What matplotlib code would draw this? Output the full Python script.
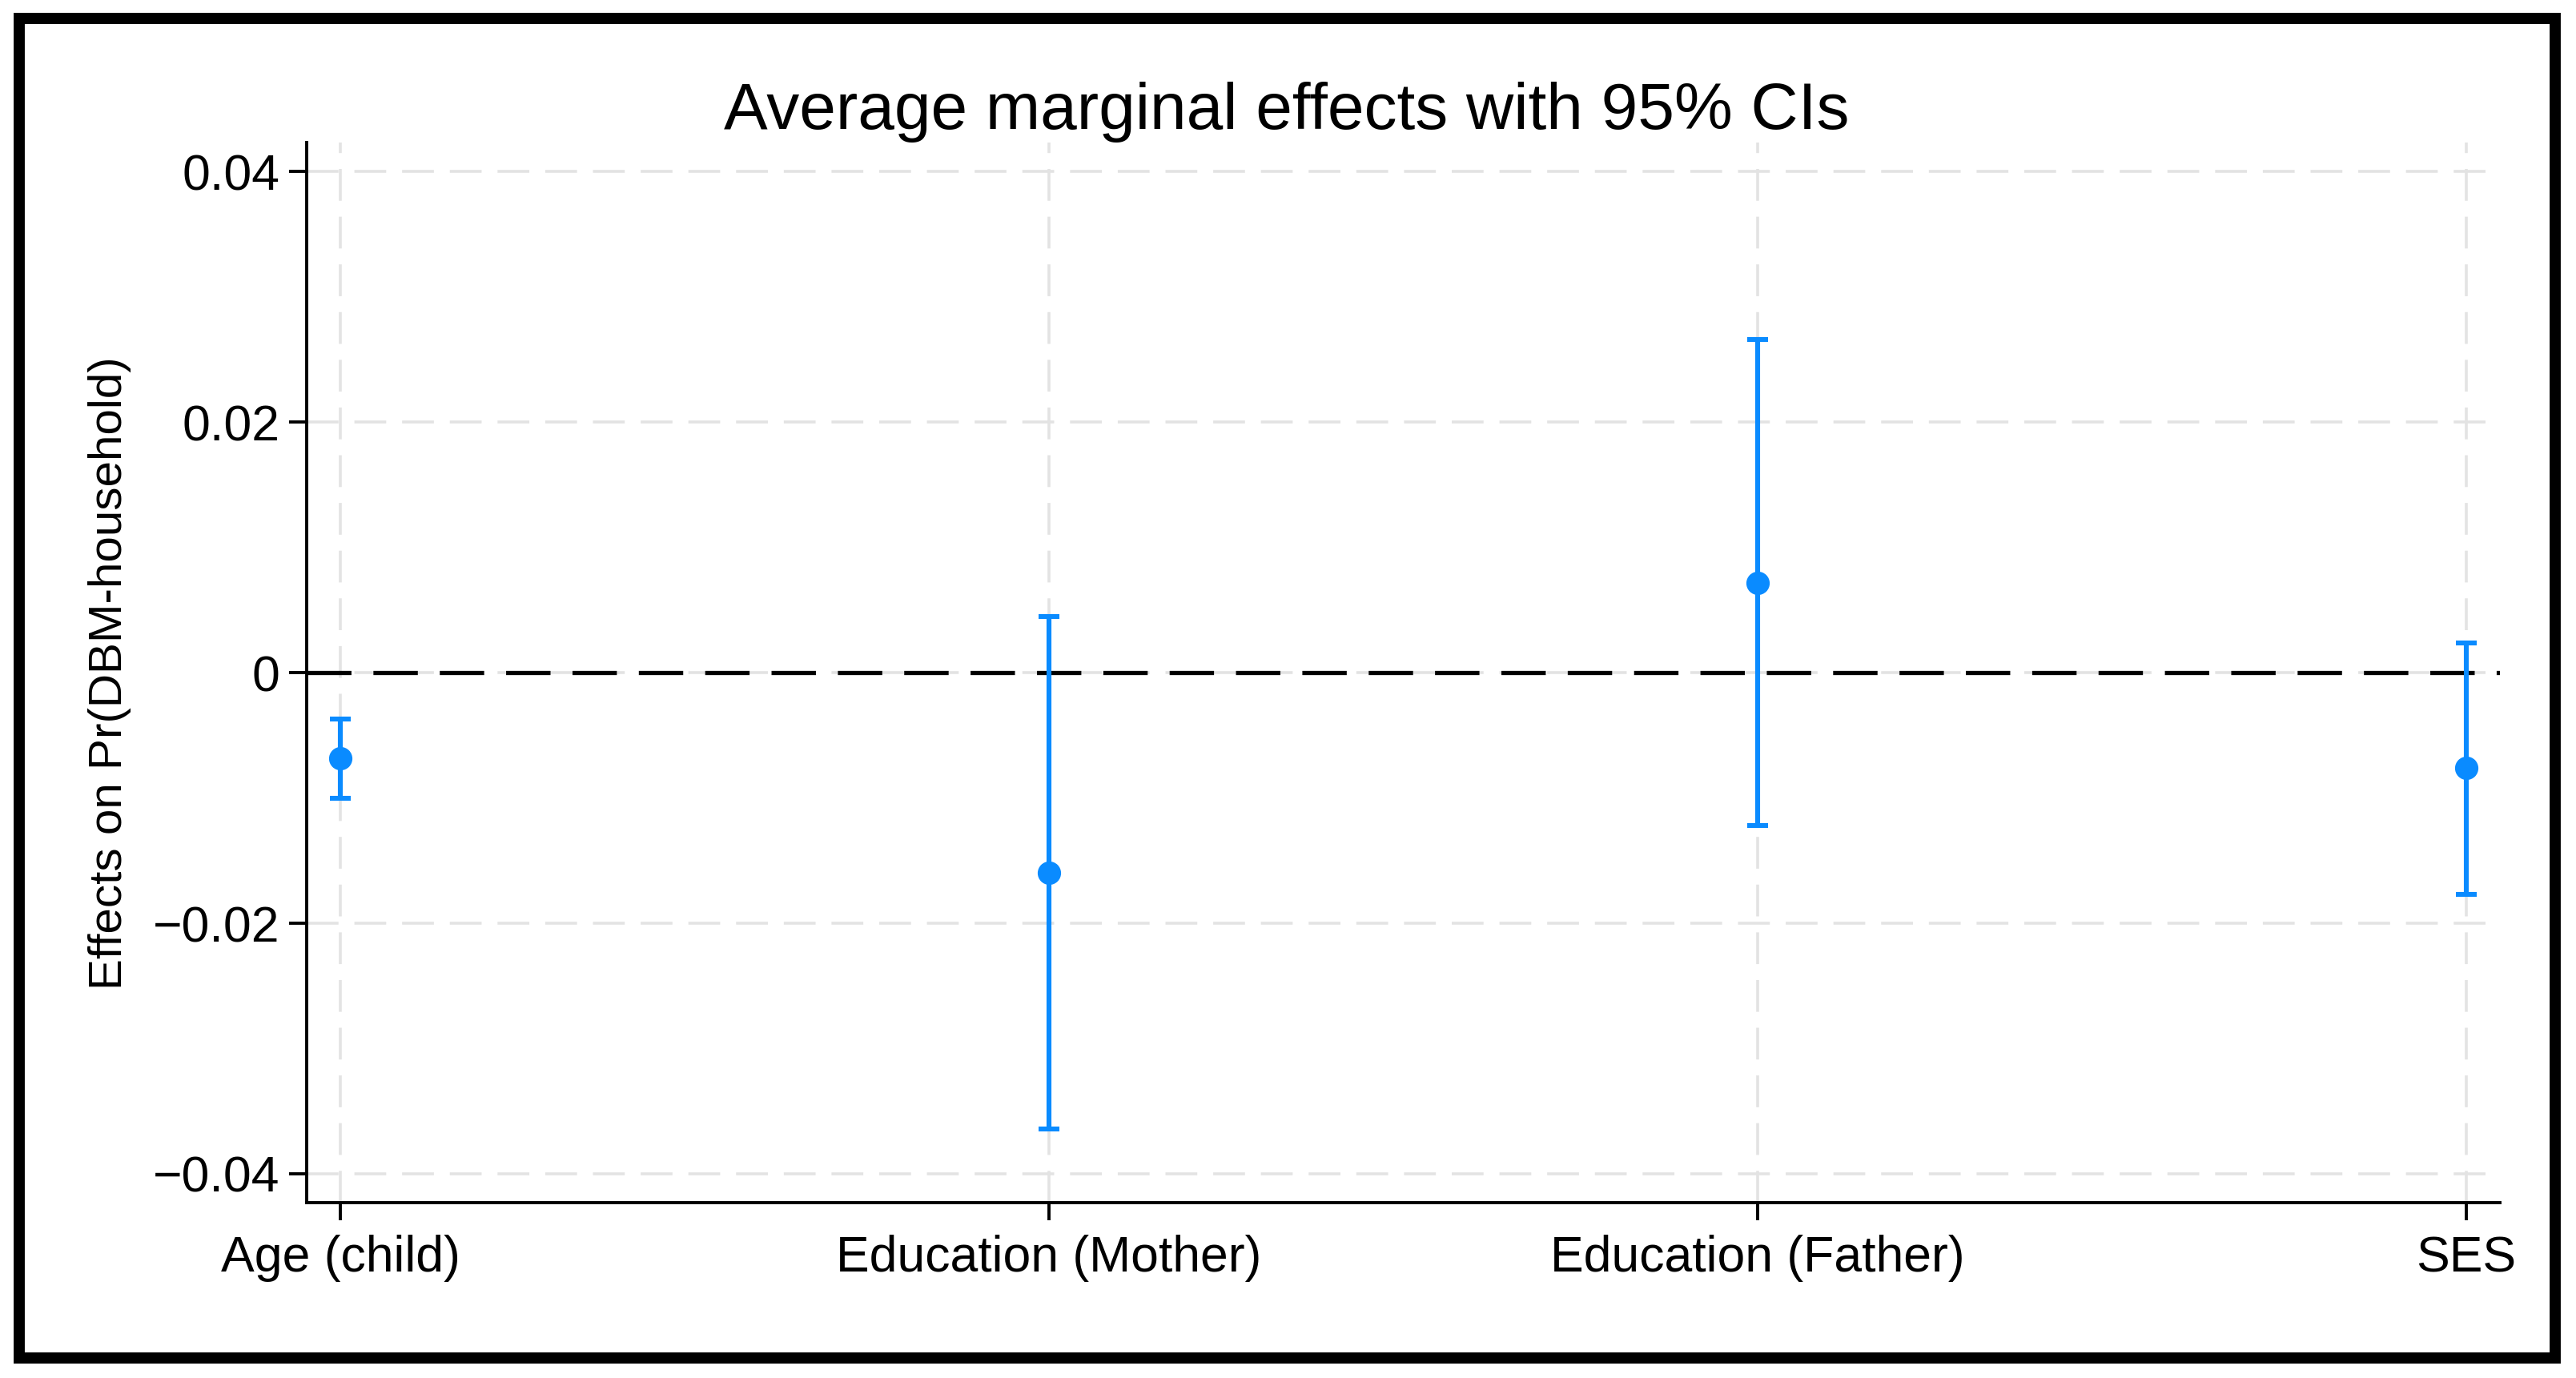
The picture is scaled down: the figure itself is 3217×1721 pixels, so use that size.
import matplotlib
matplotlib.use("Agg")
import matplotlib.pyplot as plt
from matplotlib.patches import Rectangle

categories = ["Age (child)", "Education (Mother)", "Education (Father)", "SES"]
effects = [-0.0068, -0.0160, 0.0072, -0.0076]
ci_low = [-0.0100, -0.0364, -0.0122, -0.0177]
ci_high = [-0.0037, 0.0045, 0.0266, 0.0024]
yticks = [-0.04, -0.02, 0.0, 0.02, 0.04]
ytick_labels = ["\u22120.04", "\u22120.02", "0", "0.02", "0.04"]

title = "Average marginal effects with 95% CIs"
ylabel = "Effects on Pr(DBM-household)"

blue = "#0A8BFF"
plt.rcParams['font.family'] = ['Liberation Sans', 'DejaVu Sans']

fig = plt.figure(figsize=(32.17, 17.21), dpi=100)
ax = fig.add_axes([0.1191, 0.1273, 0.9705 - 0.1191, 0.8963 - 0.1273])

x = list(range(1, len(categories) + 1))
lower_err = [e - l for e, l in zip(effects, ci_low)]
upper_err = [h - e for e, h in zip(effects, ci_high)]

# grid
for xi in x:
    ax.axvline(xi, color="#E3E3E3", lw=2.6, dashes=(11, 5.5), zorder=0)
for yt in yticks:
    ax.axhline(yt, color="#E3E3E3", lw=2.6, dashes=(11, 5.5), zorder=0)

ax.axhline(0, color="black", lw=3.8, dashes=(10.5, 5.2), zorder=1)

ax.errorbar(x, effects, yerr=[lower_err, upper_err], fmt="o", color=blue,
            ecolor=blue, elinewidth=4.4, capsize=9.5, capthick=4.4,
            markersize=20, zorder=3)

ax.set_xlim(0.9525, 4.0475)
ax.set_ylim(-0.0423, 0.0423)
ax.set_xticks(x)
ax.set_xticklabels(categories, fontsize=45)
ax.set_yticks(yticks)
ax.set_yticklabels(ytick_labels, fontsize=45)
ax.tick_params(axis="both", length=16, width=2.8, color="black")
ax.tick_params(axis="x", pad=13)
ax.tick_params(axis="y", pad=8)

for s in ["top", "right"]:
    ax.spines[s].set_visible(False)
for s in ["left", "bottom"]:
    ax.spines[s].set_linewidth(2.8)
    ax.spines[s].set_color("black")

ax.set_ylabel(ylabel, fontsize=42, labelpad=20)
fig.text(0.4995, 1 - 140 / 1721, title, fontsize=59, ha="center", va="center")

# outer frame
fig.patches.append(Rectangle((24 / 3217, 1 - 1696 / 1721), (3191 - 24) / 3217,
                             (1696 - 23) / 1721, transform=fig.transFigure,
                             fill=False, edgecolor="black", lw=10, zorder=10))

fig.savefig("out.png", dpi=100)
